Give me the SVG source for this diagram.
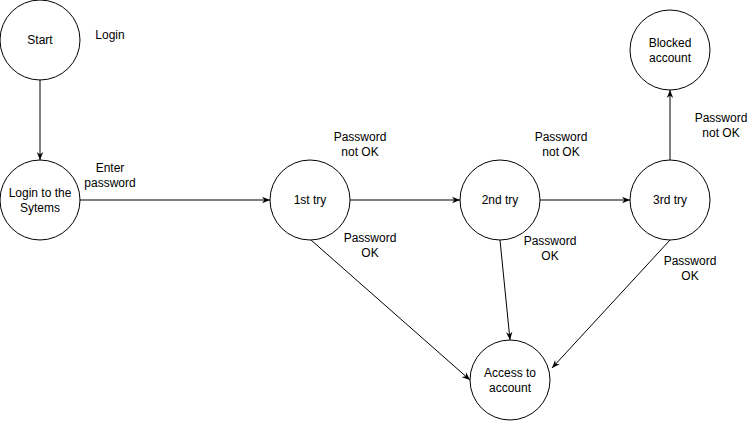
<svg xmlns="http://www.w3.org/2000/svg" width="751" height="421" viewBox="0 0 751 421">
<defs>
<style>
.node circle{fill:#fff;stroke:#000;stroke-width:1}
text{font-family:"Liberation Sans",Arial,sans-serif;font-size:12px;fill:#000;text-anchor:middle}
.edge{fill:none;stroke:#000;stroke-width:1;marker-end:url(#arr)}
</style>
<marker id="arr" viewBox="0 0 10 10" refX="10" refY="5" markerWidth="8" markerHeight="8" markerUnits="userSpaceOnUse" orient="auto">
<path d="M0,1 L10,5 L0,9 L3,5 Z" fill="#000"/>
</marker>
</defs>
<rect width="751" height="421" fill="#fff"/>
<g id="connectors">
<line class="edge" x1="40" y1="80" x2="40" y2="160"/>
<line class="edge" x1="80" y1="200" x2="270" y2="200"/>
<line class="edge" x1="350" y1="200" x2="460" y2="200"/>
<line class="edge" x1="540" y1="200" x2="630" y2="200"/>
<line class="edge" x1="670" y1="160" x2="670" y2="90"/>
<line class="edge" x1="311" y1="240" x2="470" y2="380"/>
<line class="edge" x1="500" y1="240" x2="510" y2="340"/>
<line class="edge" x1="670" y1="240" x2="552" y2="368"/>
</g>
<g id="start" class="node"><circle cx="40" cy="40" r="40"/><text x="40" y="44">Start</text></g>
<g id="login" class="node"><circle cx="40" cy="200" r="40"/><text x="40" y="197">Login to the</text><text x="40" y="212">Sytems</text></g>
<g id="try1" class="node"><circle cx="310" cy="200" r="40"/><text x="310" y="204">1st try</text></g>
<g id="try2" class="node"><circle cx="500" cy="200" r="40"/><text x="500" y="204">2nd try</text></g>
<g id="try3" class="node"><circle cx="670" cy="200" r="40"/><text x="670" y="204">3rd try</text></g>
<g id="blocked" class="node"><circle cx="670" cy="50" r="40"/><text x="670" y="47">Blocked</text><text x="670" y="62">account</text></g>
<g id="access" class="node"><circle cx="510" cy="380" r="40"/><text x="510" y="377">Access to</text><text x="510" y="392">account</text></g>
<g id="labels">
<text x="110" y="39">Login</text>
<text x="110" y="172">Enter</text><text x="110" y="187">password</text>
<text x="360" y="141">Password</text><text x="360" y="156">not OK</text>
<text x="370" y="242">Password</text><text x="370" y="257">OK</text>
<text x="561" y="141">Password</text><text x="561" y="156">not OK</text>
<text x="550" y="245">Password</text><text x="550" y="260">OK</text>
<text x="721" y="122">Password</text><text x="721" y="137">not OK</text>
<text x="690" y="265">Password</text><text x="690" y="280">OK</text>
</g>
</svg>
